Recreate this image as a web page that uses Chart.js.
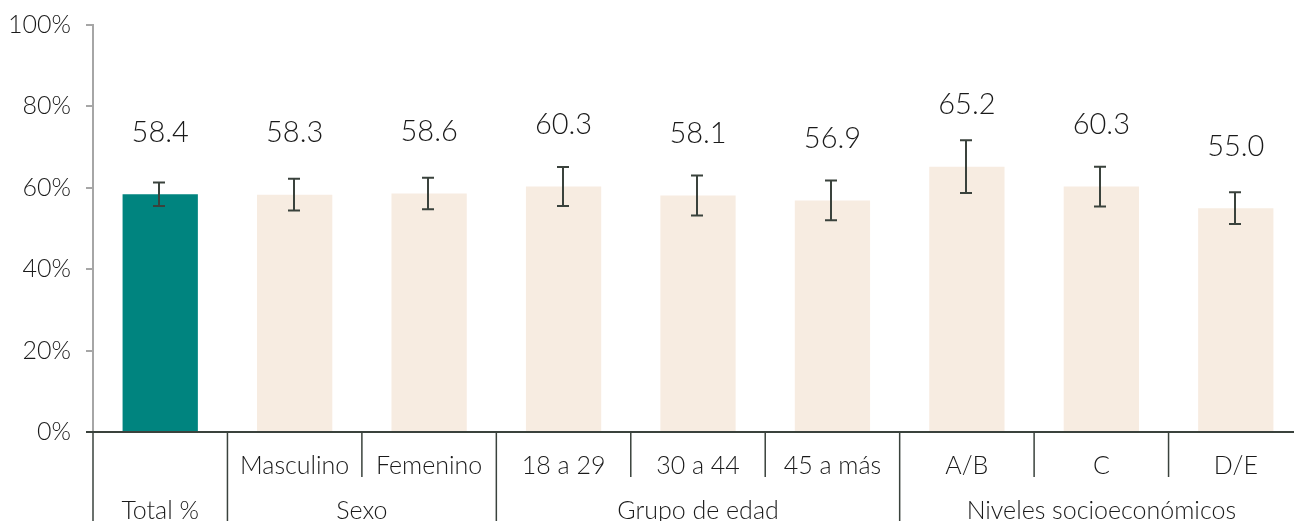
<!DOCTYPE html>
<html>
<head>
<meta charset="utf-8">
<script src="https://cdn.jsdelivr.net/npm/chart.js@4"></script>
<style>
  html, body { margin: 0; padding: 0; background: #fff; overflow: hidden; }
  #wrap { width: 1303px; height: 545px; margin-top: -5px; }
</style>
</head>
<body>
<div id="wrap"><canvas id="myChart" width="1303" height="545"></canvas></div>
<script>
const categories = ['Total %', 'Masculino', 'Femenino', '18 a 29', '30 a 44', '45 a más', 'A/B', 'C', 'D/E']
const values = [58.4, 58.3, 58.6, 60.3, 58.1, 56.9, 65.2, 60.3, 55.0]
const errors = [2.9, 3.9, 3.9, 4.8, 4.9, 4.9, 6.5, 4.9, 3.9]
const groups = [
  { label: '', from: 0, to: 0 },
  { label: 'Sexo', from: 1, to: 2 },
  { label: 'Grupo de edad', from: 3, to: 5 },
  { label: 'Niveles socioeconómicos', from: 6, to: 8 }
]
const yTicks = [0, 20, 40, 60, 80, 100]

const FONT = 'Lato, "Open Sans", sans-serif'
const TEAL = '#00847f'
const BEIGE = '#f7ece1'
const DARK = '#3a423c'

const barColors = values.map((v, i) => i === 0 ? TEAL : BEIGE)

// error bars, value labels and the two level category axis
const extras = {
  id: 'extras',
  afterDatasetsDraw: chart => {
    const ctx = chart.ctx
    const x = chart.scales.x
    const y = chart.scales.y
    const area = chart.chartArea
    const step = x.getPixelForValue(1) - x.getPixelForValue(0)

    ctx.save()
    // error bars
    ctx.strokeStyle = DARK
    ctx.lineWidth = 2
    values.forEach((v, i) => {
      const cx = Math.round(x.getPixelForValue(i)) - 1
      const top = y.getPixelForValue(v + errors[i])
      const bot = y.getPixelForValue(v - errors[i])
      ctx.beginPath()
      ctx.moveTo(cx, top); ctx.lineTo(cx, bot)
      ctx.moveTo(cx - 6, top); ctx.lineTo(cx + 6, top)
      ctx.moveTo(cx - 6, bot); ctx.lineTo(cx + 6, bot)
      ctx.stroke()
    })

    // value labels
    ctx.fillStyle = '#1a1a1a'
    ctx.font = '300 29px ' + FONT
    ctx.textAlign = 'center'
    ctx.textBaseline = 'middle'
    values.forEach((v, i) => {
      ctx.fillText(v.toFixed(1), x.getPixelForValue(i), y.getPixelForValue(v) - 62)
    })

    // x axis line
    const base = area.bottom
    ctx.strokeStyle = DARK
    ctx.lineWidth = 2
    ctx.beginPath()
    ctx.moveTo(area.left - 7, base)
    ctx.lineTo(area.right, base)
    ctx.stroke()

    // separators
    ctx.lineWidth = 1.5
    const groupStarts = groups.map(g => g.from)
    for (let i = 0; i <= categories.length; i++) {
      const sx = area.left + i * step
      const long = groupStarts.includes(i) || i === categories.length
      ctx.beginPath()
      ctx.moveTo(sx, base)
      ctx.lineTo(sx, long ? chart.height : base + 45)
      ctx.stroke()
    }

    // category labels
    ctx.fillStyle = '#1a1a1a'
    ctx.font = '300 25px ' + FONT
    categories.forEach((c, i) => {
      if (i === 0) return
      ctx.fillText(c, x.getPixelForValue(i), base + 34)
    })
    ctx.fillText(categories[0], x.getPixelForValue(0), base + 79)
    groups.forEach(g => {
      if (!g.label) return
      const mid = (x.getPixelForValue(g.from) + x.getPixelForValue(g.to)) / 2
      ctx.fillText(g.label, mid, base + 79)
    })
    ctx.restore()
  }
}

const ctx = document.getElementById('myChart').getContext('2d')
new Chart(ctx, {
  type: 'bar',
  data: {
    labels: categories,
    datasets: [{
      data: values,
      backgroundColor: barColors,
      categoryPercentage: 1,
      barPercentage: 0.56
    }]
  },
  options: {
    responsive: false,
    animation: false,
    layout: { padding: { top: 20, bottom: 108, left: 0, right: 0 } },
    plugins: { legend: { display: false }, tooltip: { enabled: false } },
    scales: {
      x: { display: false },
      y: {
        min: 0,
        max: 100,
        afterFit: scale => { scale.width = 93 },
        afterBuildTicks: scale => { scale.ticks = yTicks.map(v => ({ value: v })) },
        border: { color: '#a6a6a6', width: 2 },
        grid: { drawOnChartArea: false, color: '#a6a6a6', lineWidth: 2, tickLength: 7 },
        ticks: {
          padding: 15,
          color: '#1a1a1a',
          font: { family: FONT, size: 25, weight: '300' },
          callback: v => v + '%'
        }
      }
    }
  },
  plugins: [extras]
})
</script>
</body>
</html>
